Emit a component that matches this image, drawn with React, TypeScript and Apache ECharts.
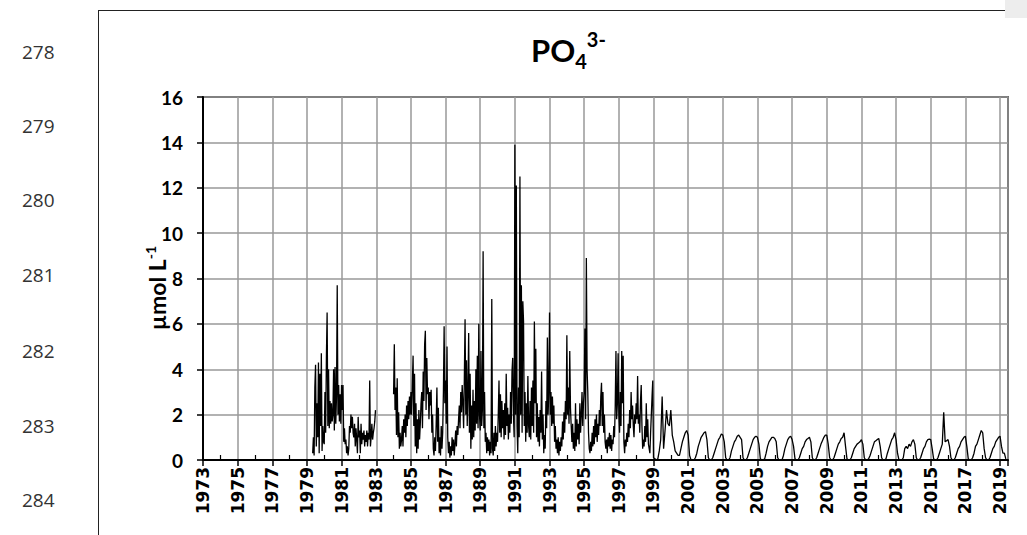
import React, { useEffect, useRef } from "react";
import * as echarts from "echarts";

// ---------- data ----------
const YEAR0 = 1973;
const X_MAX_YEAR = 2019.46;
const Y_MIN = 0;
const Y_MAX = 16;
const Y_STEP = 2;
const X_STEP = 2;

const lineNumbers = ["278", "279", "280", "281", "282", "283", "284"];

// segment 1: 1979.33 - 1983.0, half-monthly samples
const seg1Start = 1979.33;
const seg1Step = 1 / 24;
const seg1Values = [
  0.3, 1.0, 0.2, 3.2, 4.2, 0.6, 2.5, 1.0, 4.3, 0.3, 3.8, 1.5,
  4.7, 0.4, 1.5, 0.8, 0.7, 3.0, 1.2, 4.5, 6.5, 1.5, 4.0, 1.4,
  2.6, 1.6, 2.5, 1.7, 2.0, 4.0, 1.3, 4.1, 1.6, 2.8, 7.7, 2.0,
  3.3, 1.7, 2.9, 1.6, 3.3, 2.2, 3.3, 0.8, 1.4, 0.7, 0.9, 0.3,
  0.6, 0.2, 0.5, 1.5, 1.2, 2.0, 1.4, 1.9, 1.2, 1.0, 1.6, 0.6,
  1.4, 0.9, 0.3, 1.9, 1.0, 1.3, 0.3, 1.6, 0.7, 1.2, 0.9, 1.3,
  0.6, 1.1, 0.8, 1.3, 0.6, 1.2, 0.9, 3.5, 0.6, 1.0, 1.6, 0.9,
  1.2, 1.4, 1.7, 2.2,
];

// segment 2: 1984.0 - 1998.96, half-monthly samples
const seg2Start = 1984.0;
const seg2Step = 1 / 24;
const seg2Values = [
  // 1984
  2.9, 5.1, 2.2, 3.2, 1.1, 3.6, 1.0, 2.1, 0.5, 1.2, 0.6, 0.9, 1.5, 0.6, 1.8, 1.2, 2.0, 1.0, 2.4, 1.5, 2.6, 1.8, 2.8, 2.0,
  // 1985
  3.0, 2.0, 3.4, 4.6, 1.5, 3.8, 0.6, 2.5, 0.3, 1.8, 0.5, 2.2, 0.9, 1.6, 2.5, 3.0, 1.4, 3.9, 2.6, 5.1, 5.7, 2.2, 4.5, 2.9,
  // 1986
  3.2, 1.8, 3.0, 2.4, 3.1, 1.2, 2.0, 0.5, 0.2, 1.0, 0.4, 1.6, 3.2, 0.8, 2.3, 0.3, 1.0, 0.2, 1.5, 0.5, 1.2, 3.0, 5.9, 2.5,
  // 1987
  3.5, 1.6, 5.0, 1.0, 0.3, 0.8, 0.1, 0.6, 0.2, 1.0, 0.4, 0.9, 0.2, 0.7, 1.3, 0.6, 1.5, 1.1, 1.8, 2.4, 1.4, 3.0, 2.1, 3.3,
  // 1988
  2.5, 1.4, 3.6, 6.2, 2.0, 4.4, 1.5, 3.0, 5.6, 1.2, 3.8, 0.5, 2.4, 0.9, 3.1, 1.0, 2.6, 1.3, 4.0, 1.6, 4.6, 1.4, 6.0, 2.0,
  // 1989
  1.3, 4.8, 1.5, 2.2, 9.2, 1.4, 3.0, 0.8, 1.2, 0.3, 1.0, 0.4, 0.9, 0.2, 0.8, 0.3, 7.1, 0.5, 0.2, 1.2, 0.4, 1.5, 0.6, 1.2,
  // 1990
  0.8, 2.0, 3.5, 1.2, 2.9, 1.0, 2.6, 1.4, 2.2, 0.9, 2.5, 1.1, 3.8, 1.5, 2.3, 0.9, 2.0, 1.2, 3.0, 1.6, 3.9, 4.5, 2.0, 1.0,
  // 1991
  13.9, 2.0, 12.1, 1.5, 0.3, 3.2, 1.0, 12.5, 2.0, 7.7, 1.2, 7.0, 6.1, 1.5, 3.0, 0.8, 2.5, 1.2, 3.7, 1.5, 1.0, 2.6, 0.9, 3.2,
  // 1992
  1.5, 3.5, 1.2, 6.1, 2.5, 4.9, 1.0, 2.5, 0.8, 1.9, 0.6, 2.2, 1.2, 3.9, 0.9, 2.0, 0.3, 1.1, 0.5, 2.6, 1.4, 5.4, 2.0, 3.0,
  // 1993
  6.5, 2.0, 3.0, 1.5, 2.8, 1.6, 2.4, 0.8, 1.5, 0.5, 0.9, 0.3, 1.0, 0.2, 0.8, 0.4, 1.0, 0.6, 1.7, 0.9, 2.1, 1.2, 2.6, 1.8,
  // 1994
  5.5, 2.0, 3.2, 1.6, 4.8, 2.3, 1.5, 0.8, 1.6, 0.5, 1.2, 0.4, 2.5, 0.6, 1.8, 0.9, 1.6, 0.7, 2.5, 1.2, 2.0, 3.0, 1.5, 2.5,
  // 1995
  3.0, 5.8, 1.8, 8.9, 4.0, 3.0, 1.2, 0.5, 0.3, 0.8, 0.4, 1.2, 0.6, 1.5, 0.7, 1.8, 1.0, 2.0, 0.8, 1.6, 1.1, 2.2, 1.5, 2.8,
  // 1996
  3.4, 1.5, 3.0, 1.2, 2.0, 0.8, 0.5, 0.9, 0.3, 1.0, 0.6, 1.2, 0.5, 1.1, 0.4, 0.9, 0.7, 1.5, 1.0, 2.4, 4.8, 1.8, 2.5, 4.7,
  // 1997
  2.0, 1.2, 3.0, 1.5, 4.8, 2.5, 4.6, 0.8, 0.3, 0.9, 0.6, 1.2, 0.8, 1.6, 1.0, 2.2, 1.4, 3.0, 1.8, 2.4, 1.5, 1.0, 2.0, 1.6,
  // 1998
  2.5, 1.8, 3.7, 1.6, 2.0, 1.2, 2.6, 3.3, 1.5, 0.5, 0.9, 0.6, 1.5, 0.8, 2.5, 1.0, 1.8, 0.7, 0.5, 0.3, 1.2, 2.0, 2.8, 3.5,
];

// segment 3: 1999.0 - 2019.33, monthly samples
const seg3Start = 1999.0;
const seg3Step = 1 / 12;
const seg3Values = [
  0.1, 0.05, 0.0, 0.05, 0.4, 0.9, 2.8, 0.5, 1.3, 2.2, 1.6, 1.5, // 1999
  2.2, 1.1, 0.8, 0.4, 0.3, 0.2, 0.2, 0.5, 0.8, 1.0, 1.2, 1.3, // 2000
  1.1, 0.2, 0.0, 0.0, 0.0, 0.1, 0.3, 0.6, 0.8, 1.0, 1.1, 1.2, // 2001
  1.25, 0.9, 0.1, 0.0, 0.0, 0.1, 0.3, 0.5, 0.7, 0.9, 1.0, 1.15, // 2002
  1.1, 0.8, 0.1, 0.0, 0.0, 0.1, 0.4, 0.6, 0.8, 0.9, 1.05, 1.1, // 2003
  1.0, 0.9, 0.1, 0.0, 0.0, 0.1, 0.3, 0.5, 0.7, 0.9, 1.0, 1.05, // 2004
  1.0, 0.7, 0.05, 0.0, 0.0, 0.05, 0.3, 0.6, 0.8, 0.9, 1.0, 1.0, // 2005
  0.95, 0.8, 0.1, 0.0, 0.0, 0.0, 0.2, 0.5, 0.7, 0.9, 1.0, 1.05, // 2006
  0.9, 0.6, 0.05, 0.0, 0.0, 0.1, 0.3, 0.5, 0.6, 0.8, 0.9, 0.95, // 2007
  1.0, 0.8, 0.1, 0.0, 0.0, 0.1, 0.3, 0.5, 0.7, 0.85, 1.0, 1.1, // 2008
  1.1, 0.7, 0.1, 0.0, 0.0, 0.1, 0.3, 0.5, 0.7, 0.8, 0.95, 1.0, // 2009
  1.2, 0.6, 0.05, 0.0, 0.0, 0.1, 0.3, 0.5, 0.6, 0.7, 0.75, 0.8, // 2010
  0.9, 0.7, 0.1, 0.0, 0.0, 0.05, 0.2, 0.4, 0.6, 0.8, 0.85, 0.9, // 2011
  0.95, 0.6, 0.1, 0.0, 0.0, 0.05, 0.3, 0.5, 0.7, 0.9, 1.0, 1.2, // 2012
  0.9, 0.3, 0.0, 0.0, 0.0, 0.1, 0.5, 0.6, 0.5, 0.7, 0.6, 0.8, // 2013
  0.9, 0.7, 0.1, 0.0, 0.0, 0.1, 0.3, 0.5, 0.6, 0.8, 0.9, 0.92, // 2014
  0.9, 0.5, 0.05, 0.0, 0.0, 0.1, 0.3, 0.5, 0.7, 2.1, 0.8, 0.85, // 2015
  0.9, 0.6, 0.1, 0.0, 0.0, 0.1, 0.3, 0.5, 0.6, 0.8, 0.9, 1.0, // 2016
  1.05, 0.6, 0.05, 0.0, 0.0, 0.1, 0.3, 0.6, 0.7, 0.9, 1.1, 1.3, // 2017
  1.2, 0.5, 0.1, 0.0, 0.0, 0.1, 0.3, 0.5, 0.6, 0.8, 0.9, 1.0, // 2018
  1.05, 0.6, 0.3, 0.3, 0.05, // 2019
];

// ---------- helpers ----------
function toPoints(start: number, step: number, values: number[]) {
  return values.map((v, i) => [start + i * step - YEAR0, v]);
}

const W = 1027;
const H = 535;

function buildOption() {
  const s1 = toPoints(seg1Start, seg1Step, seg1Values);
  const s2 = toPoints(seg2Start, seg2Step, seg2Values).concat(
    toPoints(seg3Start, seg3Step, seg3Values)
  );

  const lineNumY = [52, 126, 200, 275, 351, 426, 500];

  const graphic: any[] = [
    {
      type: "line",
      shape: { x1: 98.5, y1: 10.5, x2: 98.5, y2: H },
      style: { stroke: "#222", lineWidth: 1 },
      silent: true,
    },
    {
      type: "line",
      shape: { x1: 98, y1: 10.5, x2: 1005, y2: 10.5 },
      style: { stroke: "#222", lineWidth: 1 },
      silent: true,
    },
    {
      type: "rect",
      shape: { x: 1005, y: 0, width: 22, height: 18 },
      style: { fill: "#ededed" },
      silent: true,
    },
    ...lineNumbers.map((t, i) => ({
      type: "text",
      x: 22,
      y: lineNumY[i],
      style: {
        text: t,
        fill: "#333",
        font: '19px "Open Sans"',
        align: "left",
        verticalAlign: "middle",
      },
      silent: true,
    })),
    {
      type: "text",
      x: 157,
      y: 288,
      rotation: Math.PI / 2,
      style: {
        text: "{a|µmol L}{b|-1}",
        align: "center",
        verticalAlign: "middle",
        rich: {
          a: {
            fontFamily: "Lato",
            fontWeight: "bold",
            fontSize: 23,
            lineHeight: 28,
            fill: "#000",
            verticalAlign: "middle",
          },
          b: {
            fontFamily: "Lato",
            fontWeight: "bold",
            fontSize: 14,
            lineHeight: 14,
            fill: "#000",
            verticalAlign: "top",
          },
        },
      },
      silent: true,
    },
  ];

  const labelFormatter = (v: number) => {
    const r = Math.round(v);
    return Math.abs(v - r) < 1e-6 ? String(YEAR0 + r) : "";
  };

  return {
    animation: false,
    backgroundColor: "#fff",
    title: {
      text: "{a|PO}{b|4}{c|3-}",
      left: 526,
      top: 24,
      textStyle: {
        rich: {
          a: {
            fontFamily: "Lato",
            fontWeight: "bold",
            fontSize: 31,
            lineHeight: 42,
            color: "#000",
            verticalAlign: "middle",
          },
          b: {
            fontFamily: "Lato",
            fontWeight: "bold",
            fontSize: 20,
            lineHeight: 20,
            color: "#000",
            verticalAlign: "bottom",
          },
          c: {
            fontFamily: "Lato",
            fontWeight: "bold",
            fontSize: 20,
            lineHeight: 20,
            color: "#000",
            verticalAlign: "top",
          },
        },
      },
    },
    grid: {
      left: 203,
      right: W - 1008,
      top: 97,
      bottom: H - 460,
      show: true,
      borderColor: "#000",
      borderWidth: 1.5,
      backgroundColor: "transparent",
    },
    xAxis: [
      {
        type: "value",
        min: 0,
        max: X_MAX_YEAR - YEAR0,
        interval: X_STEP,
        axisLine: { show: true, onZero: false, lineStyle: { color: "#000", width: 2 } },
        axisTick: { show: true, length: 6, lineStyle: { color: "#000", width: 1.5 } },
        axisLabel: {
          rotate: 90,
          margin: 7,
          color: "#000",
          fontFamily: "DejaVu Sans",
          fontWeight: "bold",
          fontSize: 17,
          formatter: labelFormatter,
        },
        splitLine: { show: true, lineStyle: { color: "#999", width: 1.5 } },
      },
      {
        type: "value",
        min: 0,
        max: X_MAX_YEAR - YEAR0,
        interval: X_STEP,
        position: "bottom",
        axisLine: { show: false },
        axisLabel: { show: false },
        splitLine: { show: false },
        axisTick: { show: false, inside: true },
        minorTick: {
          show: true,
          splitNumber: 2,
          length: 5,
          lineStyle: { color: "#000", width: 1.2 },
        },
        minorSplitLine: { show: false },
      },
    ],
    yAxis: {
      type: "value",
      min: Y_MIN,
      max: Y_MAX,
      interval: Y_STEP,
      axisLine: { show: true, lineStyle: { color: "#000", width: 2 } },
      axisTick: { show: true, length: 6, lineStyle: { color: "#000", width: 1.5 } },
      axisLabel: {
        margin: 20,
        color: "#000",
        fontFamily: "Lato",
        fontWeight: "bold",
        fontSize: 19,
      },
      splitLine: { show: true, lineStyle: { color: "#999", width: 1.5 } },
    },
    graphic,
    series: [
      {
        type: "line",
        xAxisIndex: 0,
        data: s1,
        showSymbol: false,
        symbol: "none",
        lineStyle: { color: "#000", width: 1.3 },
        silent: true,
      },
      {
        type: "line",
        xAxisIndex: 0,
        data: s2,
        showSymbol: false,
        symbol: "none",
        lineStyle: { color: "#000", width: 1.3 },
        silent: true,
      },
    ],
  };
}

export default function App() {
  const ref = useRef<HTMLDivElement>(null);
  useEffect(() => {
    if (!ref.current) return;
    const chart = echarts.init(ref.current, null, { renderer: "svg" });
    chart.setOption(buildOption() as any);
    return () => {
      chart.dispose();
    };
  }, []);
  return (
    <div
      ref={ref}
      style={{
        position: "fixed",
        left: 0,
        top: 0,
        width: W,
        height: H,
        background: "#fff",
      }}
    />
  );
}
